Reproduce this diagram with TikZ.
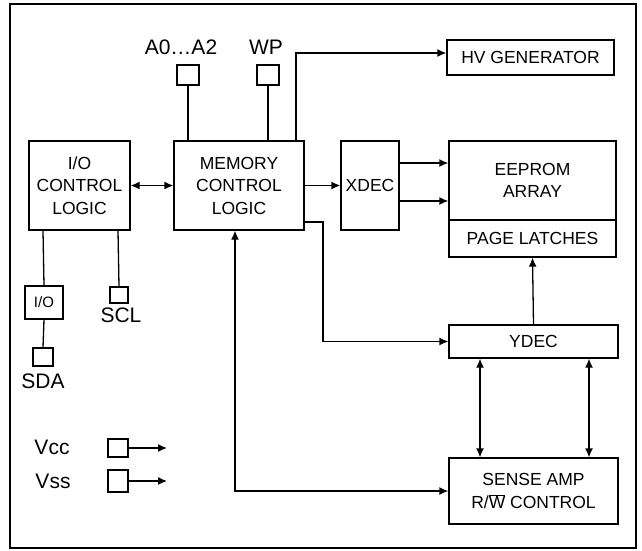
\documentclass[tikz,border=0pt]{standalone}
\usepackage{fontspec}
\setmainfont{Liberation Sans}
\usetikzlibrary{arrows.meta}
\begin{document}
\begin{tikzpicture}[x=1pt,y=-1pt,
  blk/.style={draw,line width=1.3pt,inner sep=0pt,align=center,font=\fontsize{17.5}{22.5}\selectfont},
  pin/.style={draw,line width=1.3pt,inner sep=0pt},
  lbl/.style={inner sep=0pt,font=\fontsize{21}{24}\selectfont},
  wire/.style={line width=1.3pt},
  tip/.style={},
  arr/.style={wire,-{Latex[length=9pt,width=8pt]}},
  darr/.style={wire,{Latex[length=9pt,width=8pt]}-{Latex[length=9pt,width=8pt]}}]
\useasboundingbox (0,0) rectangle (642,551);
\draw[line width=2pt] (10,4) rectangle (636,548);
% blocks
\node[blk,minimum width=101pt,minimum height=89pt] (io) at (79.5,185.5) {I/O\\CONTROL\\LOGIC};
\node[blk,minimum width=130pt,minimum height=89pt] (mem) at (239,185.5) {MEMORY\\CONTROL\\LOGIC};
\node[blk,minimum width=167pt,minimum height=35pt] (hv) at (530.5,57.5) {HV GENERATOR};
\node[blk,minimum width=58pt,minimum height=89pt] (xdec) at (370,185.5) {XDEC};
\node[blk,minimum width=167pt,minimum height=79pt] (eeprom) at (532.5,180.5) {EEPROM\\ARRAY};
\node[blk,minimum width=167pt,minimum height=37pt] (latch) at (532.5,238.5) {PAGE LATCHES};
\node[blk,minimum width=169pt,minimum height=33pt] (ydec) at (533.5,341.5) {YDEC};
\node[blk,minimum width=169pt,minimum height=66pt] (sense) at (533.5,491) {SENSE AMP\\R/$\overline{\mbox{W}}$ CONTROL};
\node[blk,minimum width=38pt,minimum height=33pt,font=\fontsize{15}{18}\selectfont] (iobuf) at (44,302.5) {I/O};
% pins
\node[pin,minimum width=22pt,minimum height=20pt] (a0) at (188,75) {};
\node[pin,minimum width=22pt,minimum height=20pt] (wp) at (268,75) {};
\node[pin,minimum width=20pt,minimum height=18pt] (sda) at (43,357) {};
\node[pin,minimum width=18pt,minimum height=16pt] (scl) at (119,295) {};
\node[pin,minimum width=20pt,minimum height=18pt] (vcc) at (118,448) {};
\node[pin,minimum width=20pt,minimum height=22pt] (vss) at (118,481) {};
% labels
\node[lbl] (a0l) at (181,47) {A0…A2};
\node[lbl] (wpl) at (266,47) {WP};
\node[lbl] (sdal) at (43,381) {SDA};
\node[lbl] (scll) at (121,315) {SCL};
\node[lbl] (vccl) at (52,447) {Vcc};
\node[lbl] (vssl) at (53,481) {Vss};
% coordinates
\coordinate (hvup) at (296,53);
\coordinate (c1) at (323,222);
\coordinate (vccend) at (167,448);
\coordinate (vssend) at (167,481);
% connectors
\draw[wire] (a0.south) -- (a0.south |- mem.north);
\draw[wire] (wp.south) -- (wp.south |- mem.north);
\draw[arr] (hvup |- mem.north) -- (hvup) -- (hv.west |- hvup);
\draw[darr] (io.east) -- (mem.west);
\draw[arr] (mem.east) -- (xdec.west);
\draw[arr] (xdec.east |- 0,163) -- (eeprom.west |- 0,163);
\draw[arr] (xdec.east |- 0,201) -- (eeprom.west |- 0,201);
\draw[arr] (mem.east |- c1) -- (c1) |- (ydec.west);
\draw[arr] (ydec.north) -- (latch.south);
\draw[darr] (ydec.south -| 480,0) -- (sense.north -| 480,0);
\draw[darr] (ydec.south -| 589,0) -- (sense.north -| 589,0);
\draw[darr] (mem.south -| 235,0) |- (sense.west);
\draw[wire] (io.south -| 43,0) -- (iobuf.north);
\draw[wire] (iobuf.south) -- (sda.north);
\draw[wire] (io.south -| 118,0) -- (scl.north);
\draw[arr] (vcc.east) -- (vccend);
\draw[arr] (vss.east) -- (vssend);
\end{tikzpicture}
\end{document}
